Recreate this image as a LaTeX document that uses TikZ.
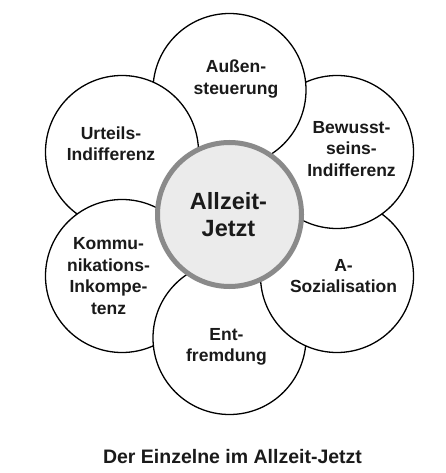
\documentclass[tikz,border=0pt]{standalone}
\usepackage{fontspec}
\setmainfont{Liberation Sans}
\definecolor{ringgray}{HTML}{8A8A8A}
\definecolor{hubfill}{HTML}{EBEBEB}
\definecolor{inkblack}{HTML}{1A1A1A}
\begin{document}
\begin{tikzpicture}[x=1pt,y=-1pt,
  petal/.style={circle, draw=black, line width=1.3pt, fill=white, minimum size=153pt, inner sep=0pt},
  hub/.style={circle, draw=ringgray, line width=5pt, fill=hubfill, minimum size=144pt, inner sep=0pt},
  lbl/.style={font=\bfseries\fontsize{17.5}{21.5}\selectfont, align=center, text=inkblack, inner sep=0pt},
  hublbl/.style={font=\bfseries\fontsize{23.5}{27}\selectfont, align=center, text=inkblack, inner sep=0pt},
  caption/.style={font=\bfseries\fontsize{19.5}{23}\selectfont, text=inkblack, inner sep=0pt}]
\useasboundingbox[fill=white] (0,0) rectangle (445,473);
% petals, each lying on its clockwise neighbour
\node[petal] (urteils) at (122,152) {};
\node[petal] (komm)    at (122,276) {};
\node[petal] (entf)    at (229.5,338) {};
\node[petal] (asoz)    at (337,276) {};
\node[petal] (bewusst) at (337,152) {};
\node[petal] (aussen)  at (229.5,90) {};
% Urteils lies on Aussen: redraw it inside Aussen
\begin{scope}
  \clip (aussen.center) circle[radius=78.5pt];
  \node[petal] (urteilsover) at (urteils.center) {};
\end{scope}
% hub
\node[hub] (hubc) at (229.5,214.5) {};
% labels
\node[lbl] (taussen)  at (236,79) {Außen-\\steuerung};
\node[lbl] (tbewusst) at (351.5,149) {Bewusst-\\seins-\\Indifferenz};
\node[lbl] (tasoz)    at (343.5,276) {A-\\Sozialisation};
\node[lbl] (tentf)    at (226.5,347) {Ent-\\fremdung};
\node[lbl] (tkomm)    at (108.5,276) {Kommu-\\nikations-\\Inkompe-\\tenz};
\node[lbl] (turteils) at (111,143.5) {Urteils-\\Indifferenz};
\node[hublbl] (thub)  at (228.5,215) {Allzeit-\\Jetzt};
\node[caption, anchor=base] (tcap) at (232.5,463) {Der Einzelne im Allzeit-Jetzt};
\end{tikzpicture}
\end{document}
